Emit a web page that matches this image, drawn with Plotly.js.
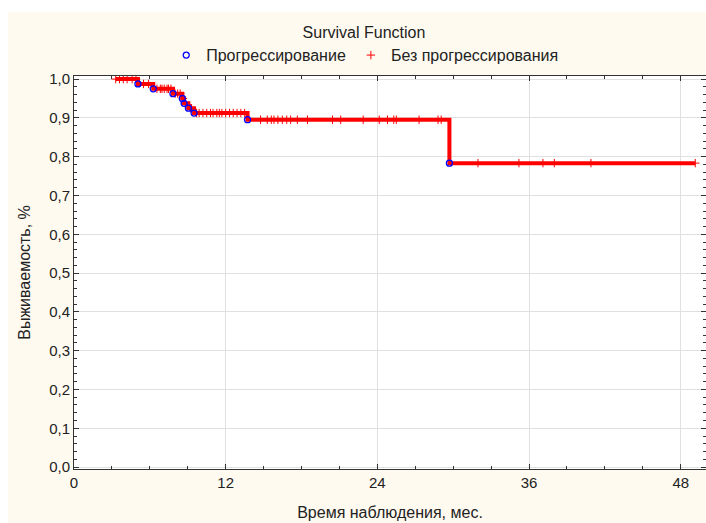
<!DOCTYPE html>
<html>
<head>
<meta charset="utf-8">
<script src="https://cdn.plot.ly/plotly-3.0.1.min.js"></script>
<style>
  html, body { margin: 0; padding: 0; background: #ffffff; width: 706px; height: 523px; overflow: hidden; }
  #chart { position: absolute; left: 8px; top: 12px; width: 698px; height: 511px; }
</style>
</head>
<body>
<div id="chart"></div>
<script>
// Kaplan-Meier curve: start, events (progression), end
const startTime = 3.3;
const startSurv = 1.0;
const eventTimes = [5.06, 6.27, 7.83, 8.57, 8.71, 9.05, 9.5, 13.73, 29.7];
const eventSurv  = [0.9875, 0.975, 0.9625, 0.95, 0.9375, 0.925, 0.9125, 0.8953, 0.7834];
const endTime = 49.15;
const endSurv = 0.7834;

// Censored observations (без прогрессирования)
const censorTimes = [3.3, 3.6, 3.9, 4.2, 4.6, 4.9,
  5.5, 5.9,
  6.56, 6.83, 6.96, 7.14, 7.36, 7.48, 7.67,
  8.0, 8.2, 8.4,
  8.62, 8.8, 9.2, 9.3,
  9.7, 9.9, 10.2, 10.5, 10.8, 11.0, 11.3, 11.5, 11.7, 12.0, 12.3, 12.6, 12.9, 13.2, 13.5,
  14.76, 15.29, 15.61, 15.82, 16.13, 16.48, 16.83, 17.14, 17.67, 18.47, 20.45, 21.1, 22.88, 24.15, 24.8, 25.3, 25.5, 27.3, 28.8, 29.05,
  31.96, 35.2, 37.1, 38.0, 40.9, 49.15];
const censorSurv = [1.0, 1.0, 1.0, 1.0, 1.0, 1.0,
  0.9875, 0.9875,
  0.975, 0.975, 0.975, 0.975, 0.975, 0.975, 0.975,
  0.9625, 0.9625, 0.9625,
  0.95, 0.9375, 0.925, 0.925,
  0.9125, 0.9125, 0.9125, 0.9125, 0.9125, 0.9125, 0.9125, 0.9125, 0.9125, 0.9125, 0.9125, 0.9125, 0.9125, 0.9125, 0.9125,
  0.8953, 0.8953, 0.8953, 0.8953, 0.8953, 0.8953, 0.8953, 0.8953, 0.8953, 0.8953, 0.8953, 0.8953, 0.8953, 0.8953, 0.8953, 0.8953, 0.8953, 0.8953, 0.8953, 0.8953,
  0.7834, 0.7834, 0.7834, 0.7834, 0.7834, 0.7834];

const xTickVals = [0, 12, 24, 36, 48];
const yTickVals = [0, 0.1, 0.2, 0.3, 0.4, 0.5, 0.6, 0.7, 0.8, 0.9, 1.0];

const lineX = [startTime].concat(eventTimes, [endTime]);
const lineY = [startSurv].concat(eventSurv, [endSurv]);

const traces = [
  {
    x: lineX, y: lineY, type: 'scatter', mode: 'lines',
    line: {shape: 'hv', color: '#ff0000', width: 4},
    showlegend: false, hoverinfo: 'skip'
  },
  {
    x: censorTimes, y: censorSurv, type: 'scatter', mode: 'markers',
    name: 'Без прогрессирования',
    marker: {symbol: 'cross-thin-open', size: 6, color: '#ff0000', line: {color: '#ff0000', width: 1}}
  },
  {
    x: eventTimes, y: eventSurv, type: 'scatter', mode: 'markers',
    name: 'Прогрессирование',
    marker: {symbol: 'circle-open', size: 6, color: '#0000ff', line: {color: '#0000ff', width: 1.3}}
  }
];

const FAM = 'Liberation Sans, Arial, sans-serif';
const tickFont = {family: FAM, size: 15, color: '#222222'};
const textFont = {family: FAM, size: 16, color: '#222222'};

const layout = {
  width: 698, height: 511,
  paper_bgcolor: '#fffaf0',
  plot_bgcolor: '#ffffff',
  margin: {l: 66, r: 0, t: 64, b: 54},
  separators: ',.',
  font: textFont,
  title: {text: 'Survival Function', x: 0.51, xanchor: 'center', y: 0.961, yanchor: 'middle', font: textFont},
  showlegend: true,
  legend: {orientation: 'h', x: 0.46, xanchor: 'center', y: 1.053, yanchor: 'middle',
           traceorder: 'reversed', bgcolor: 'rgba(0,0,0,0)', font: textFont},
  xaxis: {
    range: [0, 50], tickvals: xTickVals, ticktext: xTickVals.map(String),
    showgrid: true, gridcolor: '#e0e0e0', gridwidth: 1,
    zeroline: false, showline: true, linecolor: '#333333', linewidth: 1, mirror: 'allticks',
    ticks: 'inside', ticklen: 5, tickcolor: '#333333',
    minor: {dtick: 3, ticks: 'inside', ticklen: 3, tickcolor: '#333333', showgrid: false},
    tickfont: tickFont,
    title: {text: 'Время наблюдения, мес.', font: textFont, standoff: 16}
  },
  yaxis: {
    range: [-0.005, 1.008], tickvals: yTickVals, tickformat: '.1f',
    showgrid: true, gridcolor: '#e0e0e0', gridwidth: 1,
    zeroline: false, showline: true, linecolor: '#333333', linewidth: 1, mirror: 'allticks',
    ticks: 'inside', ticklen: 5, tickcolor: '#333333',
    minor: {dtick: 0.02, ticks: 'inside', ticklen: 3, tickcolor: '#333333', showgrid: false},
    tickfont: tickFont,
    title: {text: 'Выживаемость, %', font: textFont, standoff: 14}
  }
};

Plotly.newPlot('chart', traces, layout, {displayModeBar: false, staticPlot: true});
</script>
</body>
</html>
